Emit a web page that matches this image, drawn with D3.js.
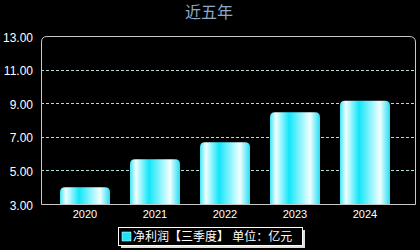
<!DOCTYPE html>
<meta charset="utf-8">
<script src="https://d3js.org/d3.v7.min.js"></script>
<style>
body { margin: 0; background: #000; }
text { font-family: Arial, "Liberation Sans", "Noto Sans CJK SC", sans-serif; }
</style>
<body>
<div id="chart"></div>
<script>

// data
const years = ["2020", "2021", "2022", "2023", "2024"];
const profit = [4.0, 5.66, 6.67, 8.46, 9.15];
const yTicks = [3, 5, 7, 9, 11, 13];

const W = 420, H = 250;
const plot = {left: 41, right: 415, top: 36, bottom: 204};

const svg = d3.select("#chart").append("svg")
    .attr("width", W)
    .attr("height", H)
    .style("background", "#000");

// bar gradient
const grad = svg.append("defs").append("linearGradient")
    .attr("id", "barGrad")
    .attr("x1", "0%").attr("x2", "100%").attr("y1", "0%").attr("y2", "0%");
[[0, "#40e6f4"], [0.12, "#f2ffff"], [0.38, "#12e6fa"], [0.8, "#f2ffff"], [1, "#22def2"]]
  .forEach(s => grad.append("stop").attr("offset", s[0]).attr("stop-color", s[1]));

const x = d3.scaleBand()
    .domain(years)
    .range([50, 400])
    .paddingInner(2 / 7)
    .paddingOuter(1 / 7);

const y = d3.scaleLinear()
    .domain([3, 13])
    .range([plot.bottom, plot.top]);

// title
svg.append("text")
    .attr("x", 209).attr("y", 18)
    .attr("text-anchor", "middle")
    .attr("fill", "#8ca8c8")
    .style("font-size", "16px")
    .text("近五年");

// grid lines
svg.append("g").selectAll("line")
  .data(yTicks.filter(d => d > 3 && d < 13))
  .join("line")
    .attr("x1", plot.left).attr("x2", plot.right)
    .attr("y1", d => Math.round(y(d)) + 0.5).attr("y2", d => Math.round(y(d)) + 0.5)
    .attr("stroke", "#b4dcdc")
    .attr("stroke-dasharray", "3,2");

// y axis labels
svg.append("g").selectAll("text")
  .data(yTicks)
  .join("text")
    .attr("x", 33)
    .attr("y", d => y(d) + 5.5)
    .attr("text-anchor", "end")
    .attr("fill", "#fff")
    .style("font-size", "12px")
    .text(d => d.toFixed(2));

// bars with rounded top corners
const r = 5;
svg.append("g").selectAll("path")
  .data(profit)
  .join("path")
    .attr("d", (d, i) => {
      const x0 = x(years[i]), x1 = x0 + x.bandwidth();
      const y0 = y(d), yb = plot.bottom;
      return `M${x0},${yb}V${y0 + r}Q${x0},${y0} ${x0 + r},${y0}H${x1 - r}Q${x1},${y0} ${x1},${y0 + r}V${yb}Z`;
    })
    .attr("fill", "url(#barGrad)");

// plot frame with rounded top corners
const fr = 6;
svg.append("path")
    .attr("d", `M${plot.left + 0.5},${plot.bottom + 0.5}V${plot.top + fr}Q${plot.left + 0.5},${plot.top + 0.5} ${plot.left + fr},${plot.top + 0.5}H${plot.right - fr}Q${plot.right + 0.5},${plot.top + 0.5} ${plot.right + 0.5},${plot.top + fr}V${plot.bottom + 0.5}Z`)
    .attr("fill", "none")
    .attr("stroke", "#c8c8c8")
    .attr("stroke-width", 1);

// x axis labels
svg.append("g").selectAll("text")
  .data(years)
  .join("text")
    .attr("x", d => x(d) + x.bandwidth() / 2)
    .attr("y", 218)
    .attr("text-anchor", "middle")
    .attr("fill", "#fff")
    .style("font-size", "11px")
    .text(d => d);

// legend
const lg = svg.append("g");
lg.append("rect")
    .attr("x", 121).attr("y", 230).attr("width", 184).attr("height", 18)
    .attr("fill", "#e0e0d8");
lg.append("rect")
    .attr("x", 118.5).attr("y", 227.5).attr("width", 184).attr("height", 18)
    .attr("fill", "#000")
    .attr("stroke", "#fff");
lg.append("rect")
    .attr("x", 122).attr("y", 232).attr("width", 9).attr("height", 9)
    .attr("fill", "#20e0f4")
    .attr("stroke", "#fff")
    .attr("stroke-width", 0.5);
lg.append("text")
    .attr("x", 133).attr("y", 241)
    .attr("fill", "#fff")
    .style("font-size", "12px")
    .text("净利润【三季度】 单位：亿元");

</script>
</body>
